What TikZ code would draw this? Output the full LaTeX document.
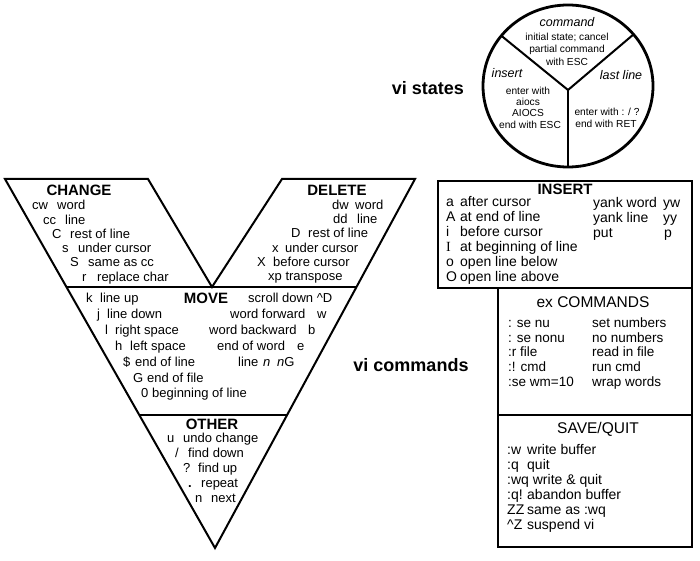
\documentclass[tikz,border=0pt]{standalone}
\usepackage{fontspec}
\setmainfont{Liberation Sans}
\newfontfamily\serifI{Liberation Serif}
\usetikzlibrary{calc}
\newcommand\kvr[3]{\makebox[#1pt][l]{#2}#3}
\begin{document}
\begin{tikzpicture}[x=1pt,y=-1pt,
  txt/.style={font=\fontsize{13}{15}\selectfont, inner sep=0pt, anchor=base west},
  txtb/.style={font=\fontsize{14}{16}\selectfont, inner sep=0pt, anchor=base west},
  txtm/.style={font=\fontsize{13.5}{16}\selectfont, inner sep=0pt, anchor=base west},
  hdr/.style={font=\fontsize{15}{17}\selectfont\bfseries, inner sep=0pt, anchor=base},
  hdrreg/.style={font=\fontsize{15.5}{17}\selectfont, inner sep=0pt, anchor=base},
  small/.style={font=\fontsize{10.2}{12}\selectfont, inner sep=0pt, anchor=base},
  ital/.style={font=\fontsize{12.5}{14}\selectfont\itshape, inner sep=0pt, anchor=base},
  title/.style={font=\fontsize{18}{20}\selectfont\bfseries, inner sep=0pt},
  frame/.style={line width=2pt, line join=miter},
  divider/.style={line width=2pt},
  rim/.style={line width=2.8pt}]
\useasboundingbox (0,0) rectangle (700,561);

% ---------------- vi states circle ----------------
\coordinate (J) at (568,90);
\coordinate (UL) at (501,35.5);
\coordinate (UR) at (634,34);
\coordinate (BOT) at (568,166);
\draw[divider] (J) -- (UL);
\draw[divider] (J) -- (UR);
\draw[divider] (J) -- (BOT);
\draw[rim] (568,86) ellipse [x radius=85pt, y radius=81pt];

\node[title] (vistates) at (428,88) {vi states};

\node[ital] (scmd) at (567,27) {command};
\node[small] (scmd1) at (567,40.5) {initial state; cancel};
\node[small] (scmd2) at (567,53) {partial command};
\node[small] (scmd3) at (567,65.5) {with ESC};

\node[ital] (sins) at (507,78) {insert};
\node[small] (sins1) at (528,94.5) {enter with};
\node[small] (sins2) at (528,105.5) {aiocs};
\node[small] (sins3) at (528,117) {AIOCS};
\node[small] (sins4) at (530,128.5) {end with ESC};

\node[ital] (slast) at (621,80) {last line};
\node[small] (slast1) at (607,115.5) {enter with : / ?};
\node[small] (slast2) at (606,127.5) {end with RET};

% ---------------- V of commands ----------------
\coordinate (TL) at (5,179);
\coordinate (CR) at (148,179);
\coordinate (IV) at (212,287);
\coordinate (DL) at (282,179);
\coordinate (TR) at (415,179);
\coordinate (BV) at (215,548);
\draw[frame] (TL) -- (CR) -- (IV) -- (DL) -- (TR) -- (BV) -- cycle;
\draw[frame] ($(TL)!0.29268!(BV)$) -- ($(TR)!0.29268!(BV)$);
\draw[frame] ($(TL)!0.63957!(BV)$) -- ($(TR)!0.63957!(BV)$);

\node[title] (vicmds) at (411,365) {vi commands};

% CHANGE
\node[hdr] (hchange) at (79,196) {CHANGE};
\node[txt] (c1) at (32,210) {\kvr{25}{cw}{word}};
\node[txt] (c2) at (43,224.2) {\kvr{22}{cc}{line}};
\node[txt] (c3) at (52,238.4) {\kvr{18}{C}{rest of line}};
\node[txt] (c4) at (62,252.6) {\kvr{16}{s}{under cursor}};
\node[txt] (c5) at (70,266.8) {\kvr{18}{S}{same as cc}};
\node[txt] (c6) at (82,281) {\kvr{15}{r}{replace char}};

% DELETE
\node[hdr] (hdelete) at (337,196) {DELETE};
\node[txt] (d1) at (332,209.5) {\kvr{23}{dw}{word}};
\node[txt] (d2) at (333,223.7) {\kvr{24}{dd}{line}};
\node[txt] (d3) at (291,237.9) {\kvr{17}{D}{rest of line}};
\node[txt] (d4) at (272,252.1) {\kvr{13}{x}{under cursor}};
\node[txt] (d5) at (257,266.3) {\kvr{16}{X}{before cursor}};
\node[txt] (d6) at (268,280.5) {xp transpose};

% MOVE
\node[hdr] (hmove) at (206,303) {MOVE};
\node[txt] (m1) at (86,302.5) {\kvr{14}{k}{line up}};
\node[txt] (m2) at (97,318.4) {\kvr{10}{j}{line down}};
\node[txt] (m3) at (105,334.3) {\kvr{10}{l}{right space}};
\node[txt] (m4) at (115,350.2) {\kvr{15}{h}{left space}};
\node[txt] (m5) at (123,366.1) {\kvr{12}{\$}{end of line}};
\node[txt] (m6) at (133,382) {\kvr{14}{G}{end of file}};
\node[txt] (m7) at (141,397.9) {\kvr{11}{0}{beginning of line}};
\node[txt] (m8) at (248,302.5) {scroll down \textasciicircum D};
\node[txt] (m9) at (230,318.4) {\kvr{87}{word forward}{w}};
\node[txt] (m10) at (209,334.3) {\kvr{99}{word backward}{b}};
\node[txt] (m11) at (217,350.2) {\kvr{80}{end of word}{e}};
\node[txt] (m12) at (238,366.1) {\kvr{25}{line}{\kvr{14}{\textit{n}}{\textit{n}G}}};

% OTHER
\node[hdr] (hother) at (212,429) {OTHER};
\node[txt] (o1) at (167,442.5) {\kvr{16}{u}{undo change}};
\node[txt] (o2) at (175,457.5) {\kvr{13}{/}{find down}};
\node[txt] (o3) at (183,472.5) {\kvr{15}{?}{find up}};
\node[txt] (o4) at (188,487.5) {\kvr{13}{\textbf{.}}{repeat}};
\node[txt] (o5) at (195,502.5) {\kvr{16}{n}{next}};

% ---------------- right boxes ----------------
\draw[frame] (438,181) rectangle (692,288);
\draw[frame] (498,288) rectangle (692,415);
\draw[frame] (498,415) rectangle (692,547);

% INSERT
\node[hdr] (hinsert) at (565,195) {INSERT};
\node[txtb] (i1) at (446,206.5) {\kvr{14}{a}{after cursor}};
\node[txtb] (i2) at (446,221.5) {\kvr{14}{A}{at end of line}};
\node[txtb] (i3) at (446,236.5) {\kvr{14}{i}{before cursor}};
\node[txtb] (i4) at (446,251.5) {\kvr{14}{\serifI I}{at beginning of line}};
\node[txtb] (i5) at (446,266.5) {\kvr{14}{o}{open line below}};
\node[txtb] (i6) at (446,281.5) {\kvr{14}{O}{open line above}};
\node[txtb] (y1) at (593,207.5) {\kvr{70}{yank word}{yw}};
\node[txtb] (y2) at (593,222.5) {\kvr{70}{yank line}{yy}};
\node[txtb] (y3) at (593,237.5) {\kvr{71}{put}{p}};

% ex COMMANDS
\node[hdrreg] (hex) at (593,307) {ex COMMANDS};
\node[txtm] (e1) at (508,327.5) {\kvr{84}{: se nu}{set numbers}};
\node[txtm] (e2) at (508,342.2) {\kvr{84}{: se nonu}{no numbers}};
\node[txtm] (e3) at (508,356.9) {\kvr{84}{:r file}{read in file}};
\node[txtm] (e4) at (508,371.6) {\kvr{84}{:! cmd}{run cmd}};
\node[txtm] (e5) at (508,386.3) {\kvr{84}{:se wm=10}{wrap words}};

% SAVE/QUIT
\node[hdrreg] (hsave) at (598,433) {SAVE/QUIT};
\node[txtb] (q1) at (507,454.5) {\kvr{20}{:w}{write buffer}};
\node[txtb] (q2) at (507,469.5) {\kvr{20}{:q}{quit}};
\node[txtb] (q3) at (507,484.5) {:wq write \& quit};
\node[txtb] (q4) at (507,499.5) {\kvr{20}{:q!}{abandon buffer}};
\node[txtb] (q5) at (507,514.5) {\kvr{20}{ZZ}{same as :wq}};
\node[txtb] (q6) at (507,529.5) {\kvr{20}{\textasciicircum Z}{suspend vi}};
\end{tikzpicture}
\end{document}
